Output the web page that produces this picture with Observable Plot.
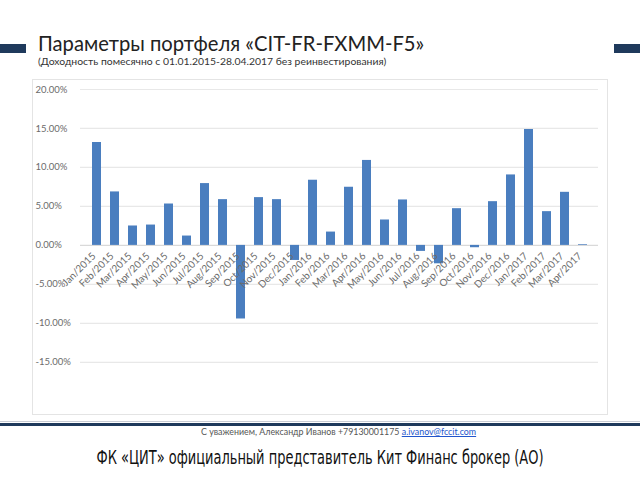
<!DOCTYPE html>
<html><head><meta charset="utf-8">
<script src="https://cdn.jsdelivr.net/npm/d3@7"></script>
<script src="https://cdn.jsdelivr.net/npm/@observablehq/plot@0.6"></script>
<style>
html,body{margin:0;padding:0;background:#fff;}
#page{position:relative;width:640px;height:480px;overflow:hidden;font-family:Lato,"Open Sans",sans-serif;}
.bar{position:absolute;background:#1f3a5c;}
#title{position:absolute;left:38px;top:31px;font-size:20.2px;color:#222;white-space:nowrap;}
#sub{position:absolute;left:38px;top:55px;font-size:10.4px;color:#333;white-space:nowrap;}
#box{position:absolute;left:32px;top:79px;width:576px;height:336px;border:1px solid #e4e4e4;box-sizing:border-box;}
#chart{position:absolute;left:33px;top:80px;}
#sig{position:absolute;left:201px;top:426px;font-size:8.85px;color:#555;white-space:nowrap;}
#sig a{color:#2255cc;text-decoration:underline;}
#foot{position:absolute;left:0;width:640px;top:446px;text-align:center;font-size:19.5px;color:#111;white-space:nowrap;font-family:"Liberation Sans Narrow","DejaVu Sans Condensed",sans-serif;transform:scaleX(0.74);}
</style></head>
<body>
<div id="page">
  <div class="bar" style="left:0;top:44px;width:26px;height:9px;"></div>
  <div class="bar" style="left:614px;top:44px;width:26px;height:9px;"></div>
  <div id="title">Параметры портфеля «CIT-FR-FXMM-F5»</div>
  <div id="sub">(Доходность помесячно с 01.01.2015-28.04.2017 без реинвестирования)</div>
  <div id="box"></div>
  <div id="chart"></div>
  <div style="position:absolute;left:0;top:421px;width:640px;height:1px;background:#c8ccd4;"></div>
  <div class="bar" style="left:0;top:423px;width:640px;height:3px;"></div>
  <div id="sig">С уважением, Александр Иванов +79130001175 <a>a.ivanov@fccit.com</a></div>
  <div id="foot">ФК «ЦИТ» официальный представитель Кит Финанс брокер (АО)</div>
</div>
<script>
const months = ["Jan/2015","Feb/2015","Mar/2015","Apr/2015","May/2015","Jun/2015","Jul/2015","Aug/2015","Sep/2015","Oct/2015","Nov/2015","Dec/2015",
  "Jan/2016","Feb/2016","Mar/2016","Apr/2016","May/2016","Jun/2016","Jul/2016","Aug/2016","Sep/2016","Oct/2016","Nov/2016","Dec/2016",
  "Jan/2017","Feb/2017","Mar/2017","Apr/2017"];
const returns = [13.2, 6.86, 2.49, 2.61, 5.31, 1.2, 7.93, 5.87, -9.44, 6.13, 5.87, -1.93,
  8.36, 1.71, 7.46, 10.9, 3.26, 5.83, -0.77, -2.36, 4.71, -0.3, 5.61, 9.04,
  14.87, 4.33, 6.81, 0.09];
const yTicks = [-15, -10, -5, 0, 5, 10, 15, 20];

const data = months.map((m, i) => ({month: m, value: returns[i]}));

const chart = Plot.plot({
  width: 575,
  height: 335,
  marginTop: 9,
  marginBottom: 22,
  marginLeft: 47,
  marginRight: 10,
  style: {fontFamily: "Lato, 'Open Sans', sans-serif", fontSize: "9.5px", color: "#6b6b6b", background: "transparent"},
  x: {domain: months, padding: 0.5, axis: null},
  y: {domain: [-19, 20], axis: null},
  marks: [
    Plot.ruleY(yTicks.filter(d => d !== 0), {stroke: "#e8e8e8", strokeWidth: 1.2, strokeOpacity: 1}),
    Plot.ruleY([0], {stroke: "#d9d9d9", strokeWidth: 1.2}),
    Plot.axisY(yTicks, {tickSize: 0, label: null, textAnchor: "start", dx: -36, fill: "#6b6b6b",
      tickFormat: d => d.toFixed(2) + "%"}),
    Plot.barY(data, {x: "month", y: "value", fill: "#4a7ebf"}),
    Plot.text(data, {x: "month", y: () => 0, text: "month", rotate: -45, textAnchor: "end",
      dx: -3, dy: 9, fill: "#6b6b6b", fontSize: 10})
  ]
});
document.getElementById("chart").appendChild(chart);
</script>
</body></html>
